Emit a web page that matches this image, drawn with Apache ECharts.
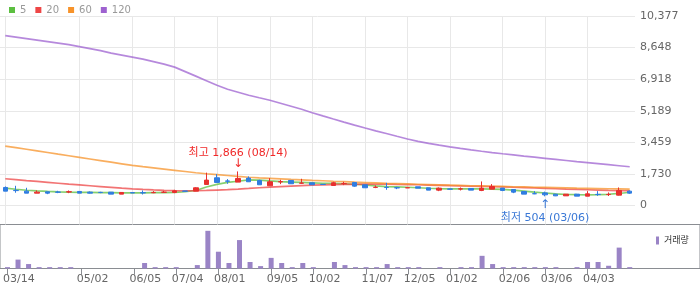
<!DOCTYPE html>
<html><head><meta charset="utf-8">
<script src="https://cdn.jsdelivr.net/npm/echarts@6/dist/echarts.min.js"></script>
<style>html,body{margin:0;padding:0;background:#fff}#c{width:700px;height:289px}</style>
</head><body><div id="c"></div>
<script>
const dates = ['03/14','03/21','03/28','04/04','04/11','04/18','04/25','05/02','05/09','05/16',
  '05/23','05/30','06/05','06/13','06/20','06/27','07/04','07/11','07/18','07/25',
  '08/01','08/08','08/14','08/22','08/29','09/05','09/11','09/19','09/26','10/02',
  '10/09','10/17','10/24','10/31','11/07','11/14','11/21','11/28','12/05','12/12',
  '12/19','12/26','01/02','01/09','01/16','01/22','01/30','02/06','02/13','02/20',
  '02/27','03/06','03/13','03/20','03/27','04/03','04/10','04/17','04/24','05/01'];
const openV  = [988,830,787,677,750,740,740,769,732,720, 732,622,705,705,700,720,714,795,787,1153,
  1519,1345,1281,1500,1373,1080,1290,1373,1220,1245, 1160,1098,1200,1263,1135,990,995,975,965,1025,
  970,842,905,900,933,824,897,952,878,769, 650,690,622,530,622,512,610,600,567,787];
const closeV = [787,815,677,732,677,725,755,677,677,710, 622,714,690,690,714,732,805,780,970,1391,
  1263,1330,1482,1300,1135,1300,1310,1190,1230,1135, 1150,1245,1208,1061,970,1000,985,965,975,950,
  842,950,895,915,842,952,1043,824,732,622, 640,585,530,622,512,640,600,610,824,677];
const lowV   = [787,700,677,677,622,677,677,677,659,677, 622,622,690,604,677,695,677,775,787,1153,
  1263,1190,1281,1300,1135,1080,1171,1190,1190,1135, 1150,1098,1116,1025,970,950,860,897,965,950,
  842,787,880,824,842,787,897,787,677,622, 622,504,515,530,512,512,530,520,549,640];
const highV  = [1043,1080,970,824,750,805,824,769,769,750, 732,714,705,824,787,805,860,800,1000,1800,
  1720,1446,1866,1592,1409,1500,1409,1373,1464,1245, 1160,1300,1300,1263,1135,1098,1245,1025,975,1025,
  970,988,915,988,933,1318,1171,952,878,769, 787,760,622,622,622,787,787,714,988,824];
const ma5   = [950,889,835,796,769,747,730,719,714,708, 703,697,697,697,703,708,714,752,824,1016,
  1153,1263,1329,1400,1389,1345,1307,1285,1263,1241, 1219,1208,1186,1164,1126,1071,1032,1016,999,972,
  944,922,911,911,911,906,900,878,846,791, 736,686,637,604,593,587,593,615,659,725];
const ma20  = [1466,1417,1367,1318,1268,1219,1169,1126,1082,1038, 994,950,911,878,851,829,813,807,813,824,
  846,867,895,933,972,1005,1038,1065,1093,1115, 1131,1142,1153,1160,1168,1175,1170,1158,1148,1137,
  1120,1104,1087,1071,1054,1043,1032,1016,999,983, 961,939,917,895,878,862,846,829,818,807];
const ma60  = [3256,3168,3080,2992,2904,2811,2723,2635,2548,2460, 2372,2284,2196,2125,2059,1993,1927,1861,1795,1740,
  1691,1642,1592,1548,1510,1482,1455,1428,1406,1378, 1356,1329,1307,1279,1257,1235,1213,1197,1180,1164,
  1148,1131,1115,1098,1082,1071,1054,1043,1027,1016, 999,988,977,966,950,939,928,917,906,895];
const ma120 = [9306,9224,9142,9059,8977,8895,8812,8702,8593,8483, 8346,8236,8126,8016,7879,7742,7577,7330,7083,6836,
  6589,6369,6204,6040,5902,5765,5600,5436,5271,5079, 4905,4735,4568,4404,4244,4090,3943,3790,3640,3515,
  3405,3305,3212,3125,3045,2970,2900,2833,2768,2705, 2645,2585,2525,2465,2405,2347,2290,2234,2178,2122];
const volume = [4,26,13,4,4,4,4,0,0,0, 0,0,0,16,4,4,4,0,10,110,
  49,16,83,19,7,31,16,4,16,4, 0,19,10,4,4,4,13,4,4,4,
  0,4,0,4,4,37,13,4,4,4, 4,4,4,0,4,19,19,8,61,4];
const yTickValues = [0,1729.5,3459,5188.5,6918,8647.5,10377];
const xTickLabels = ['03/14','05/02','06/05','07/04','08/01','09/05','10/02','11/07','12/05','01/02','02/06','03/06','04/03'];
const maNames = ['5','20','60','120'];
const volName = '거래량';

const FONT = 'DejaVu Sans, "Noto Sans CJK KR", sans-serif';
const UP = '#e8302e', DOWN = '#2f7de1';
const maColors = ['#5cbf40','#ee4646','#f7932a','#9e62d0'];
const shown = new Set(xTickLabels);
const showFn = (idx, val) => shown.has(dates[idx]);
const fmt = v => Math.round(v).toLocaleString('en-US');

let hiIdx = 0, loIdx = 0;
highV.forEach((v,i)=>{ if (v > highV[hiIdx]) hiIdx = i; });
lowV.forEach((v,i)=>{ if (v < lowV[loIdx]) loIdx = i; });

const chart = echarts.init(document.getElementById('c'), null, {renderer:'canvas'});
const maSeries = [ma5, ma20, ma60, ma120].map((d,k)=>({
  name: maNames[k], type:'line', data:d, xAxisIndex:0, yAxisIndex:0,
  symbol:'none', color: maColors[k], z: 2,
  lineStyle:{width:1.7, opacity:0.75}
}));
chart.setOption({
  animation:false,
  textStyle:{fontFamily:FONT},
  legend:[
    {data:maNames, left:4, top:0, icon:'rect', itemWidth:6, itemHeight:6, itemGap:9,
     textStyle:{fontSize:10, color:'#999', fontFamily:FONT}},
    {data:[volName], left:651, top:231, icon:'rect', itemWidth:3, itemHeight:8,
     textStyle:{fontSize:9, color:'#333', fontFamily:FONT}}
  ],
  grid:[
    {left:0, right:65, top:16, height:208.5},
    {left:0, right:65, top:225, height:43.5},
    {left:-1, right:-1, top:224.5, height:44, show:true, borderColor:'#8a8d92', borderWidth:1, backgroundColor:'transparent'}
  ],
  xAxis:[
    {type:'category', gridIndex:0, data:dates, boundaryGap:true,
     axisLine:{show:false}, axisTick:{show:false, alignWithLabel:true, interval:showFn}, axisLabel:{show:false},
     splitLine:{show:true, interval:showFn, alignWithLabel:true, lineStyle:{color:'#e8e8e8'}}},
    {type:'category', gridIndex:1, data:dates, boundaryGap:true,
     axisLine:{show:false},
     axisTick:{show:true, alignWithLabel:true, interval:showFn, length:6, lineStyle:{color:'#8a8d92'}},
     axisLabel:{show:true, interval:showFn, color:'#666', fontSize:11, fontFamily:FONT, margin:5, align:'left', padding:[0,0,0,-4.5]},
     splitLine:{show:false}},
    {type:'value', gridIndex:2, show:false}
  ],
  yAxis:[
    {type:'value', gridIndex:0, position:'right', min:-1040, max:10377,
     axisLine:{show:false}, axisTick:{show:false, customValues:yTickValues},
     axisLabel:{customValues:yTickValues, formatter:v=>fmt(v), color:'#666', fontSize:11, fontFamily:FONT, margin:5},
     splitLine:{show:true, lineStyle:{color:'#e8e8e8'}}},
    {type:'value', gridIndex:1, min:0, max:127, show:false, splitLine:{show:false}},
    {type:'value', gridIndex:2, show:false}
  ],
  series:[
    {name:'candle', type:'candlestick', xAxisIndex:0, yAxisIndex:0, z:3, barWidth:5,
     data: dates.map((d,i)=>[openV[i], closeV[i], lowV[i], highV[i]]),
     itemStyle:{color:UP, color0:DOWN, borderColor:UP, borderColor0:DOWN, borderWidth:1},
     markPoint:{
       symbol:'rect', symbolSize:1, itemStyle:{color:'rgba(0,0,0,0)'}, animation:false,
       data:[
         {coord:[hiIdx, highV[hiIdx]], value:highV[hiIdx],
          label:{show:true, position:'top', distance:1,
            formatter:'{t|최고 ' + fmt(highV[hiIdx]) + ' (' + dates[hiIdx] + ')}\n{a|↓}',
            rich:{t:{color:'#f02828', fontSize:11, fontFamily:FONT, lineHeight:9, align:'center'},
                  a:{color:'#f02828', fontSize:12, fontFamily:FONT, lineHeight:12, align:'center'}}}},
         {coord:[loIdx, lowV[loIdx]], value:lowV[loIdx],
          label:{show:true, position:'bottom', distance:2,
            formatter:'{a|↑}\n{t|최저 ' + fmt(lowV[loIdx]) + ' (' + dates[loIdx] + ')}',
            rich:{t:{color:'#3a78d6', fontSize:11, fontFamily:FONT, lineHeight:14, align:'center'},
                  a:{color:'#3a78d6', fontSize:12, fontFamily:FONT, lineHeight:12, align:'center'}}}}
       ]}},
    ...maSeries,
    {name:volName, type:'bar', xAxisIndex:1, yAxisIndex:1, data:volume, barWidth:5,
     color:'#9a84c6', itemStyle:{color:'#9a84c6'}}
  ]
});
</script></body></html>
